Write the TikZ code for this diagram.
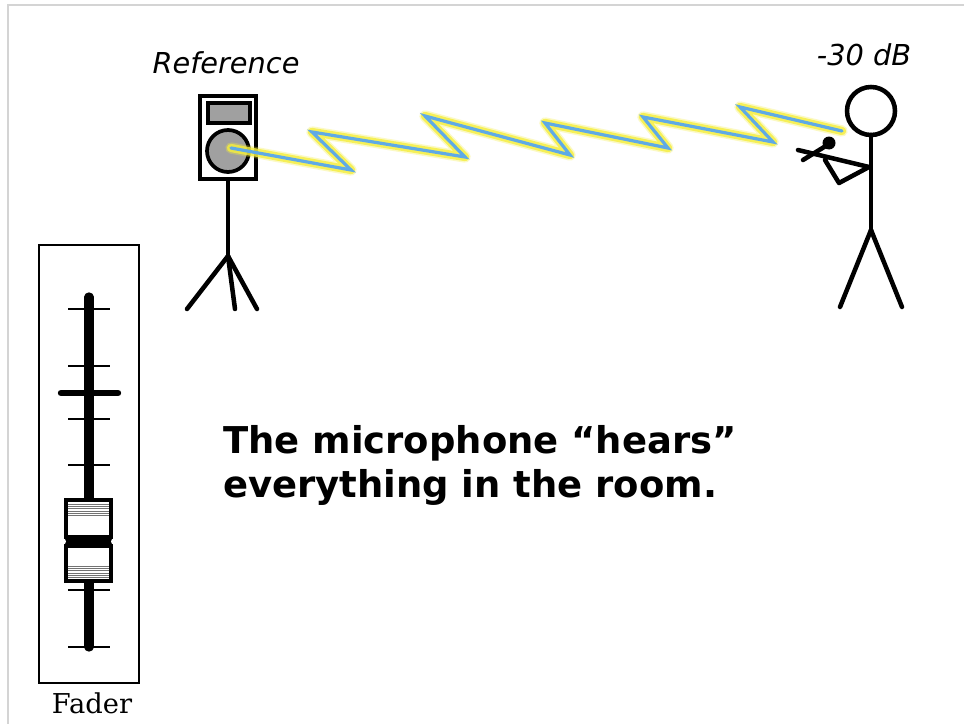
\documentclass[tikz,border=0pt]{standalone}
\usepackage{fontspec}
\setmainfont{DejaVu Sans}
\newfontfamily\serifface{DejaVu Serif}
\definecolor{frameline}{RGB}{212,212,212}
\definecolor{conegray}{RGB}{160,160,160}
\definecolor{wireblue}{RGB}{95,170,230}
\definecolor{glowyellow}{RGB}{245,238,60}
\begin{document}
\begin{tikzpicture}[x=0.75pt,y=-0.75pt,
  ink/.style={draw=black,line width=3.4pt},
  tick/.style={draw=black,line width=2.1pt},
  hatch/.style={draw=black!55,line width=0.55pt},
  glow/.style={draw=glowyellow,line width=6.2pt,line join=round,line cap=round,opacity=0.8},
  softglow/.style={draw=glowyellow,line width=8.5pt,line join=round,line cap=round,opacity=0.3},
  wire/.style={draw=wireblue,line width=2.4pt,line join=miter,line cap=round},
  caption/.style={inner sep=0pt,font=\fontsize{21.6}{26}\selectfont\itshape}]
\useasboundingbox (0,0) rectangle (964,724);
\fill[white] (0,0) rectangle (964,724);
% page frame (top and left edges)
\draw[frameline,line width=1.1pt] (8,724) -- (8,5) -- (964,5);

% ---------- loudspeaker on a stand ----------
\draw[ink,line cap=round] (228,181) -- (228,256);
\draw[ink,line cap=round] (228,256) -- (187,309);
\draw[ink,line cap=round] (228,256) -- (235,309);
\draw[ink,line cap=round] (228,256) -- (257,309);
\draw[draw=black,line width=3.6pt,fill=white] (200,96) rectangle (256,179);
\draw[draw=black,line width=2.4pt,fill=conegray] (208,103) rectangle (250,123);
\draw[draw=black,line width=2.8pt,fill=conegray] (228,151) circle (21);
\coordinate (cone) at (231,148);

% ---------- performer holding a microphone ----------
\draw[ink] (871,111) circle (24);
\draw[ink,line cap=round] (871,135) -- (871,230);
\draw[ink,line cap=round] (871,230) -- (840,307);
\draw[ink,line cap=round] (871,230) -- (902,307);
\draw[ink,line cap=round,line join=round] (798,150) -- (869,167) -- (839,183) -- (825,160);
\draw[ink,line cap=round] (829,144) -- (803,160);
\fill[black] (829,143) circle (6.5);
\coordinate (mic) at (842,131);

% ---------- signal path ----------
\path[softglow] (cone) -- (351,170) -- (312,132) -- (465,157) -- (425,116) -- (570,155)
  -- (545,123) -- (668,148) -- (643,117) -- (773,142) -- (740,107) -- (mic);
\path[glow] (cone) -- (351,170) -- (312,132) -- (465,157) -- (425,116) -- (570,155)
  -- (545,123) -- (668,148) -- (643,117) -- (773,142) -- (740,107) -- (mic);
\path[wire] (cone) -- (351,170) -- (312,132) -- (465,157) -- (425,116) -- (570,155)
  -- (545,123) -- (668,148) -- (643,117) -- (773,142) -- (740,107) -- (mic);

% ---------- labels ----------
\node[caption] (reflabel) at (226,63) {Reference};
\node[caption] (dblabel) at (864,55) {-30 dB};
\node[anchor=west,align=left,inner sep=0pt,
  font=\fontsize{27.7}{33}\selectfont\bfseries] (message) at (223,465)
  {The microphone “hears”\\everything in the room.};

% ---------- fader ----------
\draw[draw=black,line width=1.5pt] (39,245) rectangle (139,683);
\draw[draw=black,line width=7pt,line cap=round] (89,297) -- (89,647);
\foreach \ty in {309,366,419,465,590,647}
  \draw[tick] (68,\ty) -- (110,\ty);
\draw[draw=black,line width=4.8pt,line cap=round] (61,393) -- (118,393);
% knob
\draw[ink,fill=white] (66,500) rectangle (111,537);
\draw[ink,fill=white] (66,546) rectangle (111,581);
\fill[black] (64,535) rectangle (113,548);
\fill[white] (63,541.5) circle (3);
\fill[white] (114,541.5) circle (3);
\foreach \hy in {504,506,508.5,511,513,515}
  \draw[hatch] (68,\hy) -- (109,\hy);
\foreach \hy in {566,568,570.5,573,575,577.5}
  \draw[hatch] (68,\hy) -- (109,\hy);
\node[inner sep=0pt,font=\serifface\fontsize{20.5}{24}\selectfont] (faderlabel) at (92,703) {Fader};
\end{tikzpicture}
\end{document}
